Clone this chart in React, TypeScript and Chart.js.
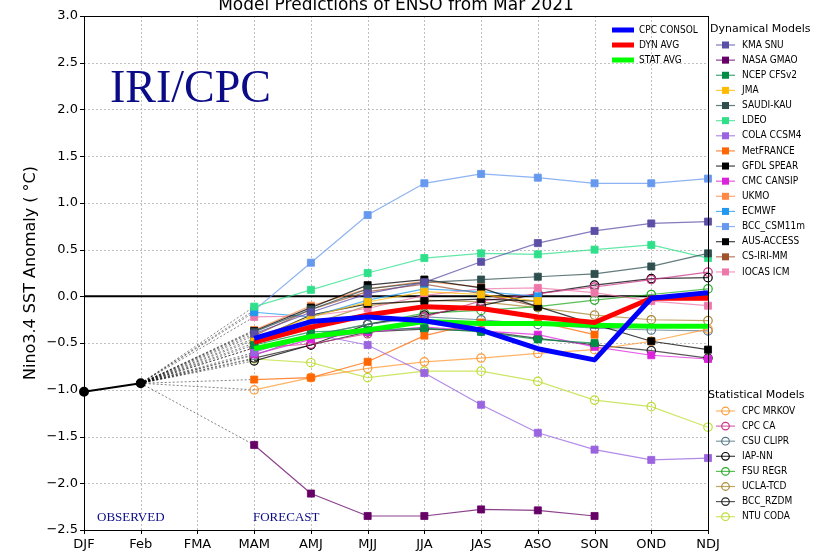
import React, { useEffect, useRef } from 'react';
import { Chart, registerables } from 'chart.js';

Chart.register(...registerables);

const SEASONS = ['DJF', 'Feb', 'FMA', 'MAM', 'AMJ', 'MJJ', 'JJA', 'JAS', 'ASO', 'SON', 'OND', 'NDJ'];
const OBSERVED = [-1.02, -0.93];

// Forecast values MAM .. NDJ
const CPC_CONSOL = [-0.45, -0.27, -0.22, -0.26, -0.36, -0.56, -0.68, -0.02, 0.04];
const DYN_AVG = [-0.49, -0.33, -0.2, -0.11, -0.13, -0.22, -0.28, -0.02, -0.02];
const STAT_AVG = [-0.56, -0.43, -0.36, -0.27, -0.29, -0.29, -0.31, -0.32, -0.32];

const KMA_SNU = [-0.4, -0.17, 0.03, 0.15, 0.37, 0.57, 0.7, 0.78, 0.8];
const NASA_GMAO = [-1.59, -2.11, -2.35, -2.35, -2.28, -2.29, -2.35, null, null];
const NCEP_CFSV2 = [-0.52, -0.38, -0.36, -0.34, -0.38, -0.46, -0.5, null, null];
const JMA = [-0.45, -0.22, -0.06, 0.05, 0.02, -0.05, null, null, null];
const SAUDI_KAU = [-0.38, -0.14, 0.08, 0.15, 0.18, 0.21, 0.24, 0.32, 0.46];
const LDEO = [-0.11, 0.07, 0.25, 0.41, 0.46, 0.45, 0.5, 0.55, 0.41];
const COLA_CCSM4 = [-0.6, -0.4, -0.52, -0.82, -1.16, -1.46, -1.64, -1.75, -1.73];
const METFRANCE = [-0.89, -0.87, -0.7, -0.42, -0.28, -0.27, -0.41, null, null];
const GFDL_SPEAR = [-0.37, -0.12, 0.12, 0.18, 0.09, -0.11, -0.3, -0.48, -0.57];
const CMC_CANSIP = [-0.62, -0.46, -0.38, -0.33, -0.37, -0.41, -0.54, -0.63, -0.67];
const UKMO = [-0.36, -0.1, 0.08, 0.16, 0.1, null, null, null, null];
const ECMWF = [-0.17, -0.22, -0.04, 0.08, 0.05, 0.0, null, null, null];
const BCC_CSM11M = [-0.15, 0.36, 0.87, 1.21, 1.31, 1.27, 1.21, 1.21, 1.26];
const AUS_ACCESS = [-0.47, -0.2, -0.08, -0.05, -0.03, -0.05, null, null, null];
const CS_IRI_MM = [-0.42, -0.14, 0.05, 0.13, 0.03, -0.11, null, null, null];
const IOCAS_ICM = [-0.22, -0.21, -0.13, 0.01, 0.08, 0.09, 0.04, -0.05, -0.1];

const CPC_MRKOV = [-1.0, -0.87, -0.77, -0.7, -0.66, -0.61, -0.57, -0.48, -0.35];
const CPC_CA = [-0.55, -0.51, -0.4, -0.22, -0.05, 0.03, 0.1, 0.18, 0.26];
const CSU_CLIPR = [-0.63, -0.42, -0.3, -0.22, -0.25, -0.3, -0.34, -0.36, -0.37];
const IAP_NN = [-0.69, -0.52, -0.3, -0.2, -0.1, 0.03, 0.12, 0.19, 0.2];
const FSU_REGR = [-0.55, -0.42, -0.3, -0.18, -0.15, -0.11, -0.04, 0.02, 0.08];
const UCLA_TCD = [-0.5, -0.3, -0.1, -0.04, -0.06, -0.12, -0.2, -0.25, -0.26];
const BCC_RZDM = [-0.66, -0.52, -0.38, -0.35, -0.37, -0.45, -0.52, -0.58, -0.66];
const NTU_CODA = [-0.67, -0.71, -0.87, -0.8, -0.8, -0.91, -1.11, -1.18, -1.4];

const DYNAMICAL_NAMES = ['KMA SNU', 'NASA GMAO', 'NCEP CFSv2', 'JMA', 'SAUDI-KAU', 'LDEO', 'COLA CCSM4', 'MetFRANCE', 'GFDL SPEAR', 'CMC CANSIP', 'UKMO', 'ECMWF', 'BCC_CSM11m', 'AUS-ACCESS', 'CS-IRI-MM', 'IOCAS ICM'];
const DYNAMICAL_COLORS = ['#5b4ea6', '#660066', '#008c45', '#ffbb00', '#2f4f4f', '#2ee08a', '#9a63e0', '#ff6600', '#000000', '#dd22dd', '#ff8844', '#2299ee', '#6699ee', '#000000', '#a0522d', '#ee77aa'];
const DYNAMICAL_VALUES = [KMA_SNU, NASA_GMAO, NCEP_CFSV2, JMA, SAUDI_KAU, LDEO, COLA_CCSM4, METFRANCE, GFDL_SPEAR, CMC_CANSIP, UKMO, ECMWF, BCC_CSM11M, AUS_ACCESS, CS_IRI_MM, IOCAS_ICM];

const STATISTICAL_NAMES = ['CPC MRKOV', 'CPC CA', 'CSU CLIPR', 'IAP-NN', 'FSU REGR', 'UCLA-TCD', 'BCC_RZDM', 'NTU CODA'];
const STATISTICAL_COLORS = ['#ff9933', '#cc3388', '#557788', '#000000', '#22aa22', '#aa8833', '#222222', '#bbdd33'];
const STATISTICAL_VALUES = [CPC_MRKOV, CPC_CA, CSU_CLIPR, IAP_NN, FSU_REGR, UCLA_TCD, BCC_RZDM, NTU_CODA];

const AVG_NAMES = ['CPC CONSOL', 'DYN AVG', 'STAT AVG'];
const AVG_COLORS = ['#0000ff', '#ff0000', '#00ff00'];
const AVG_VALUES = [CPC_CONSOL, DYN_AVG, STAT_AVG];

const TITLE = 'Model Predictions of ENSO from Mar 2021';
const Y_LABEL = 'Nino3.4 SST Anomaly ( °C)';

const FONT = "'DejaVu Sans', sans-serif";
const COND = "'DejaVu Sans Condensed', 'Liberation Sans Narrow', 'DejaVu Sans', sans-serif";

function hexA(hex: string, a: number) {
  const n = parseInt(hex.slice(1), 16);
  return `rgba(${(n >> 16) & 255},${(n >> 8) & 255},${n & 255},${a})`;
}

// DJF: none, Feb: observed start point, FMA: gap (spanned), MAM..NDJ: forecast
function modelData(vals: (number | null)[]) {
  return [null, OBSERVED[1], null, ...vals];
}

const decorPlugin = {
  id: 'decor',
  beforeDatasetsDraw(chart: any) {
    const { ctx, chartArea: a, scales } = chart;
    const x = scales.x;
    const y = scales.y;
    ctx.save();
    ctx.strokeStyle = '#b0b0b0';
    ctx.lineWidth = 0.8;
    ctx.setLineDash([2, 2]);
    x.ticks.forEach((_: any, i: number) => {
      const px = Math.round(x.getPixelForTick(i)) + 0.5;
      ctx.beginPath();
      ctx.moveTo(px, a.top);
      ctx.lineTo(px, a.bottom);
      ctx.stroke();
    });
    y.ticks.forEach((_: any, i: number) => {
      const py = Math.round(y.getPixelForTick(i)) + 0.5;
      ctx.beginPath();
      ctx.moveTo(a.left, py);
      ctx.lineTo(a.right, py);
      ctx.stroke();
    });
    ctx.setLineDash([]);
    const z = y.getPixelForValue(0);
    ctx.strokeStyle = '#000';
    ctx.lineWidth = 2;
    ctx.beginPath();
    ctx.moveTo(a.left, z);
    ctx.lineTo(a.right, z);
    ctx.stroke();
    ctx.restore();
  },
  afterDraw(chart: any) {
    const { ctx, chartArea: a, scales } = chart;
    const x = scales.x;
    const y = scales.y;
    ctx.save();
    // spines
    ctx.strokeStyle = '#000';
    ctx.lineWidth = 1;
    ctx.strokeRect(Math.round(a.left) + 0.5, Math.round(a.top) + 0.5, Math.round(a.right - a.left), Math.round(a.bottom - a.top));
    // tick marks
    ctx.beginPath();
    x.ticks.forEach((_: any, i: number) => {
      const px = Math.round(x.getPixelForTick(i)) + 0.5;
      ctx.moveTo(px, a.bottom);
      ctx.lineTo(px, a.bottom + 4);
    });
    y.ticks.forEach((_: any, i: number) => {
      const py = Math.round(y.getPixelForTick(i)) + 0.5;
      ctx.moveTo(a.left, py);
      ctx.lineTo(a.left - 4, py);
    });
    ctx.stroke();

    // title
    ctx.fillStyle = '#000';
    ctx.font = `17px ${FONT}`;
    ctx.textAlign = 'center';
    ctx.textBaseline = 'alphabetic';
    ctx.fillText(TITLE, (a.left + a.right) / 2, 10);

    // y label
    ctx.save();
    ctx.translate(31, (a.top + a.bottom) / 2);
    ctx.rotate(-Math.PI / 2);
    ctx.font = `16px ${FONT}`;
    ctx.textBaseline = 'middle';
    ctx.fillText(Y_LABEL, 0, 0);
    ctx.restore();

    // annotations
    ctx.textAlign = 'left';
    ctx.fillStyle = '#0b0b88';
    ctx.font = "46px 'Liberation Serif', 'DejaVu Serif', serif";
    ctx.fillText('IRI/CPC', 110, 102);
    ctx.font = "13px 'Liberation Serif', 'DejaVu Serif', serif";
    ctx.fillText('OBSERVED', 97, 521);
    ctx.fillText('FORECAST', 253, 521);

    // averages legend
    ctx.textBaseline = 'middle';
    AVG_NAMES.forEach((n, i) => {
      const yy = 30 + i * 15;
      ctx.strokeStyle = AVG_COLORS[i];
      ctx.lineWidth = 5;
      ctx.beginPath();
      ctx.moveTo(612, yy);
      ctx.lineTo(634, yy);
      ctx.stroke();
      ctx.fillStyle = '#000';
      ctx.font = `10px ${COND}`;
      ctx.fillText(n, 639, yy);
    });

    // dynamical legend
    ctx.fillStyle = '#000';
    ctx.font = `11px ${FONT}`;
    ctx.fillText('Dynamical Models', 710, 29);
    DYNAMICAL_NAMES.forEach((n, i) => {
      const yy = 45 + i * 15.13;
      const c = DYNAMICAL_COLORS[i];
      ctx.strokeStyle = hexA(c, 0.75);
      ctx.lineWidth = 1.2;
      ctx.beginPath();
      ctx.moveTo(716, yy);
      ctx.lineTo(735, yy);
      ctx.stroke();
      ctx.fillStyle = c;
      ctx.fillRect(722, yy - 3.5, 7, 7);
      ctx.fillStyle = '#000';
      ctx.font = `10px ${COND}`;
      ctx.fillText(n, 742, yy);
    });

    // statistical legend
    ctx.font = `11px ${FONT}`;
    ctx.fillStyle = '#000';
    ctx.fillText('Statistical Models', 708, 395);
    STATISTICAL_NAMES.forEach((n, i) => {
      const yy = 411 + i * 15.1;
      const c = STATISTICAL_COLORS[i];
      ctx.strokeStyle = hexA(c, 0.75);
      ctx.lineWidth = 1.2;
      ctx.beginPath();
      ctx.moveTo(716, yy);
      ctx.lineTo(735, yy);
      ctx.stroke();
      ctx.strokeStyle = c;
      ctx.beginPath();
      ctx.arc(725.5, yy, 3.8, 0, Math.PI * 2);
      ctx.stroke();
      ctx.fillStyle = '#000';
      ctx.font = `10px ${COND}`;
      ctx.fillText(n, 742, yy);
    });
    ctx.restore();
  },
};

export default function App() {
  const ref = useRef<HTMLCanvasElement | null>(null);

  useEffect(() => {
    if (!ref.current) return;
    // the segment that ends at the first forecast season (MAM, index 3) is the dashed connector from Feb
    const isConnector = (c: any) => c.p1DataIndex <= 3;
    const connector = {
      borderColor: (c: any) => (isConnector(c) ? 'rgba(0,0,0,0.7)' : undefined),
      borderDash: (c: any) => (isConnector(c) ? [2, 2] : undefined),
      borderWidth: (c: any) => (isConnector(c) ? 0.7 : undefined),
    };
    const datasets: any[] = [];
    AVG_NAMES.forEach((n, i) => {
      datasets.push({
        label: n,
        data: [null, null, null, ...AVG_VALUES[i]],
        borderColor: AVG_COLORS[i],
        borderWidth: 5,
        borderJoinStyle: 'round',
        pointRadius: 0,
        fill: false,
        order: 0,
      });
    });
    datasets.push({
      label: 'Observed',
      data: [...OBSERVED, ...Array(SEASONS.length - OBSERVED.length).fill(null)],
      borderColor: '#000',
      backgroundColor: '#000',
      borderWidth: 2,
      pointRadius: 4,
      pointBackgroundColor: '#000',
      order: 0,
    });
    DYNAMICAL_NAMES.forEach((n, i) => {
      const c = DYNAMICAL_COLORS[i];
      datasets.push({
        label: n,
        data: modelData(DYNAMICAL_VALUES[i]),
        spanGaps: true,
        borderColor: hexA(c, 0.75),
        borderWidth: 1.2,
        pointStyle: 'rect',
        pointRadius: (ctx: any) => (ctx.dataIndex === 1 ? 0 : 5),
        pointBackgroundColor: c,
        pointBorderColor: hexA(c, 0.8),
        pointBorderWidth: 1,
        segment: connector,
        order: 1,
      });
    });
    STATISTICAL_NAMES.forEach((n, i) => {
      const c = STATISTICAL_COLORS[i];
      datasets.push({
        label: n,
        data: modelData(STATISTICAL_VALUES[i]),
        spanGaps: true,
        borderColor: hexA(c, 0.75),
        borderWidth: 1.2,
        pointStyle: 'circle',
        pointRadius: (ctx: any) => (ctx.dataIndex === 1 ? 0 : 4.2),
        pointBackgroundColor: 'rgba(0,0,0,0)',
        pointBorderColor: c,
        pointBorderWidth: 1.2,
        segment: connector,
        order: 1,
      });
    });

    const chart = new Chart(ref.current, {
      type: 'line',
      data: { labels: SEASONS, datasets },
      plugins: [decorPlugin],
      options: {
        responsive: false,
        animation: false,
        events: [],
        layout: { padding: { top: 16, right: 107, left: 0, bottom: 0 } },
        plugins: { legend: { display: false }, tooltip: { enabled: false }, title: { display: false } },
        scales: {
          x: {
            type: 'category',
            offset: false,
            grid: { display: false, drawTicks: false },
            border: { display: false },
            ticks: { color: '#000', font: { family: FONT, size: 13 }, padding: 7, maxRotation: 0, autoSkip: false },
            afterFit: (s: any) => {
              s.height = 21;
            },
          },
          y: {
            min: -2.5,
            max: 3,
            grid: { display: false, drawTicks: false },
            border: { display: false },
            ticks: {
              stepSize: 0.5,
              color: '#000',
              font: { family: FONT, size: 13 },
              padding: 6,
              callback: (v: any) => {
                const n = Number(v);
                return (n < -1e-9 ? '\u2212' : '') + Math.abs(n).toFixed(1);
              },
            },
            afterFit: (s: any) => {
              s.width = 84;
            },
          },
        },
      } as any,
    });
    return () => chart.destroy();
  }, []);

  return (
    <div style={{ position: 'absolute', left: 0, top: 0, width: 815, height: 551, background: '#fff' }}>
      <canvas ref={ref} width={815} height={551} style={{ display: 'block' }} />
    </div>
  );
}
